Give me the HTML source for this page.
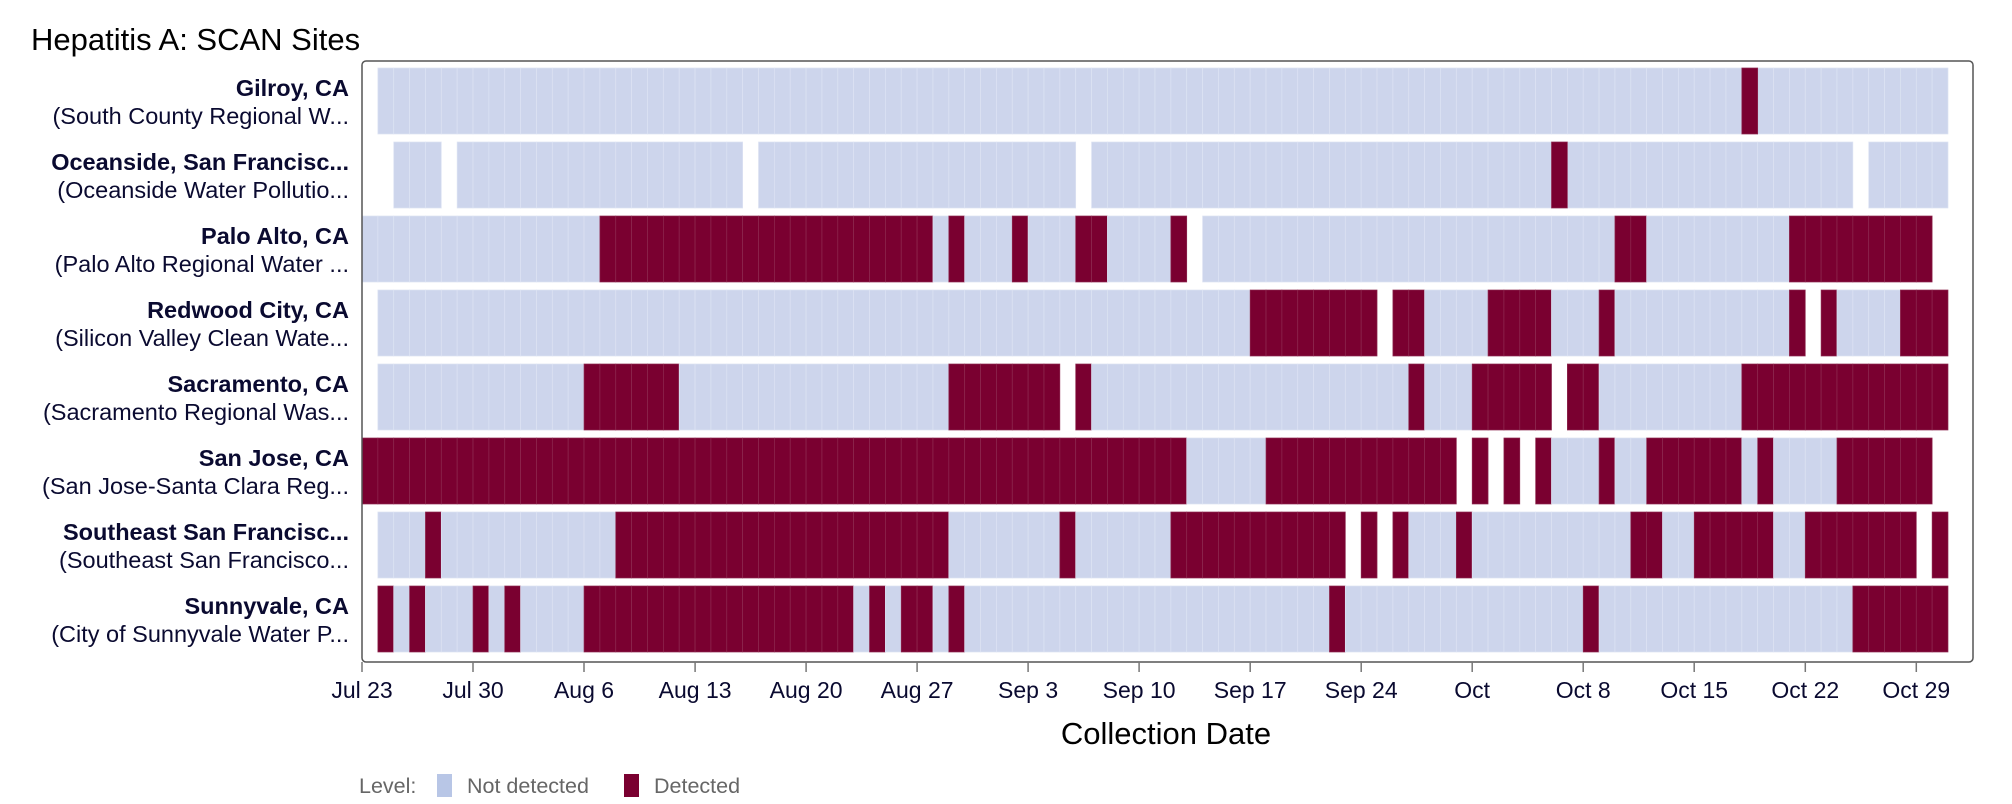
<!DOCTYPE html>
<html><head><meta charset="utf-8"><style>
html,body{margin:0;padding:0;background:#fff;}
svg{display:block;font-family:"Liberation Sans",Arial,sans-serif;}
</style></head><body>
<svg id="s" width="2012" height="804" viewBox="0 0 2012 804" xmlns="http://www.w3.org/2000/svg">
<text x="31" y="50" font-size="31" fill="#000">Hepatitis A: SCAN Sites</text>
<g id="cells"></g>
<rect x="362" y="61" width="1611" height="601" rx="4" fill="none" stroke="#555" stroke-width="1.5"/>
<g font-size="23.5" text-anchor="end" fill="#0a0a30">
<text x="349" y="96" font-weight="bold">Gilroy, CA</text><text x="349" y="124">(South County Regional W...</text>
<text x="349" y="170" font-weight="bold">Oceanside, San Francisc...</text><text x="349" y="198">(Oceanside Water Pollutio...</text>
<text x="349" y="244" font-weight="bold">Palo Alto, CA</text><text x="349" y="272">(Palo Alto Regional Water ...</text>
<text x="349" y="318" font-weight="bold">Redwood City, CA</text><text x="349" y="346">(Silicon Valley Clean Wate...</text>
<text x="349" y="392" font-weight="bold">Sacramento, CA</text><text x="349" y="420">(Sacramento Regional Was...</text>
<text x="349" y="466" font-weight="bold">San Jose, CA</text><text x="349" y="494">(San Jose-Santa Clara Reg...</text>
<text x="349" y="540" font-weight="bold">Southeast San Francisc...</text><text x="349" y="568">(Southeast San Francisco...</text>
<text x="349" y="614" font-weight="bold">Sunnyvale, CA</text><text x="349" y="642">(City of Sunnyvale Water P...</text>
</g>
<g id="ticks" font-size="23" text-anchor="middle" fill="#0a0a30"></g>
<text x="1166" y="744" font-size="31" text-anchor="middle" fill="#000">Collection Date</text>
<g font-size="21.5" fill="#666">
<text x="359" y="793">Level:</text>
<rect x="437" y="774" width="15" height="23" fill="#b8c6e6"/>
<text x="467" y="793">Not detected</text>
<rect x="624" y="774" width="15" height="23" fill="#7a0030"/>
<text x="654" y="793">Detected</text>
</g>
</svg>
<script>
var ND="#cdd5ec",D="#7a0030";
var rows=[
[[1,100,0],[87,88,1]],
[[2,5,0],[6,24,0],[25,45,0],[46,94,0],[95,100,0],[75,76,1]],
[[0,15,0],[15,36,1],[36,37,0],[37,38,1],[38,41,0],[41,42,1],[42,45,0],[45,47,1],[47,51,0],[51,52,1],[53,79,0],[79,81,1],[81,90,0],[90,99,1]],
[[1,56,0],[56,64,1],[65,67,1],[67,71,0],[71,75,1],[75,78,0],[78,79,1],[79,90,0],[90,91,1],[92,93,1],[93,97,0],[97,100,1]],
[[1,14,0],[14,20,1],[20,37,0],[37,44,1],[45,46,1],[46,66,0],[66,67,1],[67,70,0],[70,75,1],[76,78,1],[78,87,0],[87,100,1]],
[[0,52,1],[52,57,0],[57,69,1],[70,71,1],[72,73,1],[74,75,1],[75,78,0],[78,79,1],[79,81,0],[81,87,1],[87,88,0],[88,89,1],[89,93,0],[93,99,1]],
[[1,4,0],[4,5,1],[5,16,0],[16,37,1],[37,44,0],[44,45,1],[45,51,0],[51,62,1],[63,64,1],[65,66,1],[66,69,0],[69,70,1],[70,80,0],[80,82,1],[82,84,0],[84,89,1],[89,91,0],[91,98,1],[99,100,1]],
[[1,2,1],[2,3,0],[3,4,1],[4,7,0],[7,8,1],[8,9,0],[9,10,1],[10,14,0],[14,31,1],[31,32,0],[32,33,1],[33,34,0],[34,36,1],[36,37,0],[37,38,1],[38,61,0],[61,62,1],[62,77,0],[77,78,1],[78,94,0],[94,100,1]]
];
var g=document.getElementById("cells"),h="";
var X=function(i){return 362+15.86*i;};
rows.forEach(function(r,k){
 var y=68+74*k;
 r.forEach(function(s){
  for(var i=s[0];i<s[1];i++){
   h+='<rect x="'+X(i).toFixed(2)+'" y="'+y.toFixed(1)+'" width="15.86" height="66" fill="'+(s[2]?D:ND)+'" stroke="'+(s[2]?"#8e2a50":"#dde3f3")+'" stroke-width="0.7"/>';
  }
 });
});
g.innerHTML=h;
var labs=["Jul 23","Jul 30","Aug 6","Aug 13","Aug 20","Aug 27","Sep 3","Sep 10","Sep 17","Sep 24","Oct","Oct 8","Oct 15","Oct 22","Oct 29"];
var t="";
labs.forEach(function(l,j){var x=X(7*j).toFixed(1);
 t+='<line x1="'+x+'" x2="'+x+'" y1="662" y2="672" stroke="#777" stroke-width="1.5"/><text x="'+x+'" y="698">'+l+'</text>';});
document.getElementById("ticks").innerHTML=t;
</script>
</body></html>
